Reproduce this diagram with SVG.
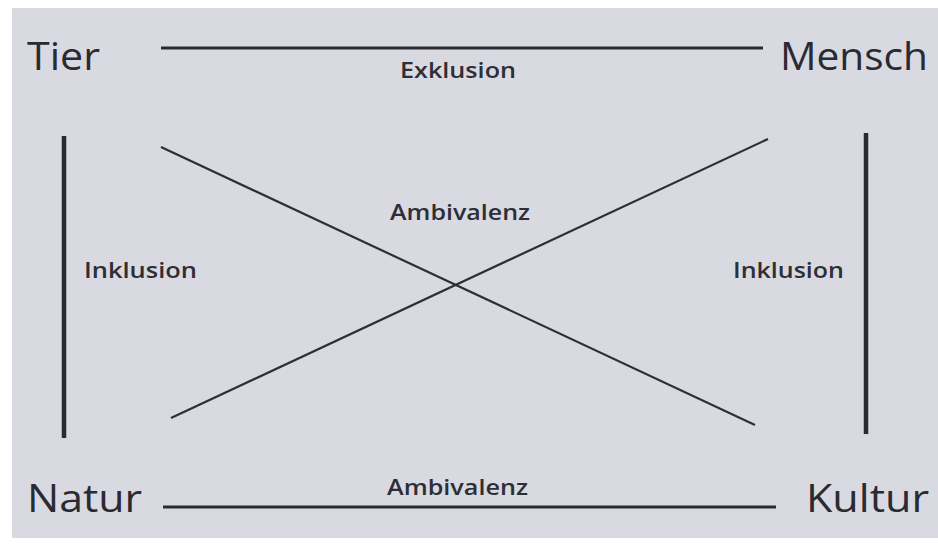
<svg xmlns="http://www.w3.org/2000/svg" width="938" height="547" viewBox="0 0 938 547">
  <style>
    .node { font-family: "Open Sans", "Noto Sans", "Liberation Sans", sans-serif; font-size: 39px; font-weight: 500; fill: #2a2a32; }
    .lbl { font-family: "Open Sans", "Noto Sans", "Liberation Sans", sans-serif; font-size: 21px; font-weight: 600; fill: #2e2e36; }
    .thick { stroke: #2a2a32; stroke-width: 3; fill: none; }
    .vert { stroke: #2a2a32; stroke-width: 4.5; fill: none; }
    .diag { stroke: #2e2e36; stroke-width: 2.2; fill: none; }
  </style>
  <rect x="0" y="0" width="938" height="547" fill="#ffffff"/>
  <rect x="12" y="8" width="926" height="530" fill="#d9d9e1"/>

  <g id="connectors">
    <line class="thick" x1="161" y1="48" x2="763" y2="48"/>
    <line class="thick" x1="163" y1="507" x2="776" y2="507"/>
    <line class="vert" x1="64" y1="136" x2="64" y2="438"/>
    <line class="vert" x1="866" y1="133" x2="866" y2="434"/>
    <line class="diag" x1="161" y1="147" x2="755" y2="425"/>
    <line class="diag" x1="171" y1="418" x2="768" y2="139"/>
    <text class="lbl" x="400" y="78" textLength="116" lengthAdjust="spacingAndGlyphs">Exklusion</text>
    <text class="lbl" x="390" y="220" textLength="140" lengthAdjust="spacingAndGlyphs">Ambivalenz</text>
    <text class="lbl" x="84" y="278" textLength="113" lengthAdjust="spacingAndGlyphs">Inklusion</text>
    <text class="lbl" x="733" y="278" textLength="111" lengthAdjust="spacingAndGlyphs">Inklusion</text>
    <text class="lbl" x="387" y="495" textLength="141" lengthAdjust="spacingAndGlyphs">Ambivalenz</text>
  </g>

  <g id="tier"><text class="node" x="27" y="70" textLength="73" lengthAdjust="spacingAndGlyphs">Tier</text></g>
  <g id="mensch"><text class="node" x="780" y="70" textLength="148" lengthAdjust="spacingAndGlyphs">Mensch</text></g>
  <g id="natur"><text class="node" x="27" y="512" textLength="115" lengthAdjust="spacingAndGlyphs">Natur</text></g>
  <g id="kultur"><text class="node" x="806" y="512" textLength="123" lengthAdjust="spacingAndGlyphs">Kultur</text></g>
</svg>
